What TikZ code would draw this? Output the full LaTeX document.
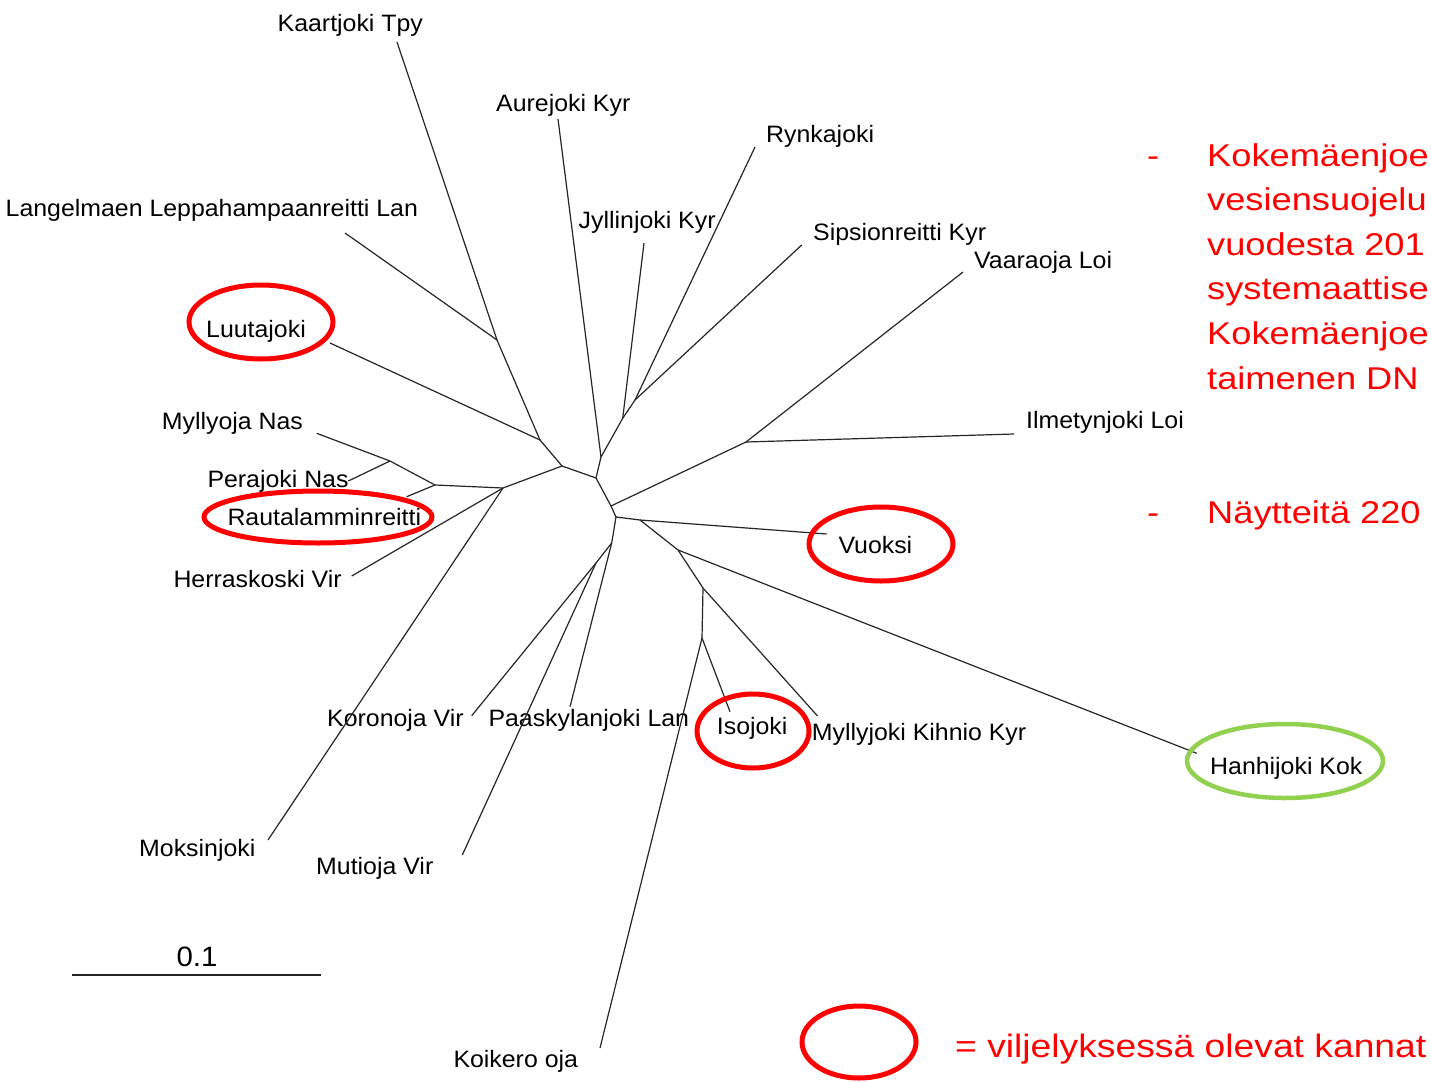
\documentclass[tikz,border=0pt]{standalone}
\usepackage{fontspec}
\setmainfont{Liberation Sans}[FakeStretch=1.05]
\newfontfamily\redf{Liberation Sans}[FakeStretch=1.15]
\definecolor{ringred}{RGB}{255,0,0}
\definecolor{ringgreen}{RGB}{146,208,80}
\begin{document}
\begin{tikzpicture}[x=1pt,y=-1pt,
  edge/.style={line width=1.2pt, black!85},
  lbl/.style={anchor=base west, inner sep=0pt, font=\fontsize{23.7}{28}\selectfont},
  redtxt/.style={anchor=base west, inner sep=0pt, text=ringred, font=\redf\fontsize{31.5}{38}\selectfont},
  redring/.style={draw=ringred, line width=5pt},
  greenring/.style={draw=ringgreen, line width=4.5pt}]
\clip (0,0) rectangle (1431,1081);
\fill[white] (0,0) rectangle (1431,1081);
% labels
\node[lbl] (kaa) at (277.5,32) {Kaartjoki Tpy};
\node[lbl] (aur) at (496,111) {Aurejoki Kyr};
\node[lbl] (ryn) at (766,142) {Rynkajoki};
\node[lbl] (lan) at (5.5,216) {Langelmaen Leppahampaanreitti Lan};
\node[lbl] (jyl) at (578.5,228) {Jyllinjoki Kyr};
\node[lbl] (sip) at (813,240) {Sipsionreitti Kyr};
\node[lbl] (vaa) at (974,268) {Vaaraoja Loi};
\node[lbl] (luu) at (206,337) {Luutajoki};
\node[lbl] (myo) at (161.7,429) {Myllyoja Nas};
\node[lbl] (ilm) at (1026,428) {Ilmetynjoki Loi};
\node[lbl] (per) at (207.3,487) {Perajoki Nas};
\node[lbl] (rau) at (227.3,525) {Rautalamminreitti};
\node[lbl] (vuo) at (838.3,553) {Vuoksi};
\node[lbl] (her) at (173.3,587) {Herraskoski Vir};
\node[lbl] (kor) at (327,726) {Koronoja Vir};
\node[lbl] (paa) at (488.3,726) {Paaskylanjoki Lan};
\node[lbl] (iso) at (716.7,734) {Isojoki};
\node[lbl] (myk) at (811.7,740) {Myllyjoki Kihnio Kyr};
\node[lbl] (han) at (1210,774) {Hanhijoki Kok};
\node[lbl] (mok) at (139,856) {Moksinjoki};
\node[lbl] (mut) at (316,874) {Mutioja Vir};
\node[lbl] (koi) at (453.3,1067) {Koikero oja};
% leaf ends
\coordinate (kaaE) at (397,42);
\coordinate (lanE) at (345,233);
\coordinate (luuE) at (330,343);
\coordinate (myoE) at (316.7,433.3);
\coordinate (perE) at (348.3,481);
\coordinate (rauE) at (406.7,496.7);
\coordinate (herE) at (351.7,576);
\coordinate (mokE) at (268,840);
\coordinate (aurE) at (558,119);
\coordinate (jylE) at (644,243);
\coordinate (rynE) at (755,147);
\coordinate (sipE) at (801.7,245);
\coordinate (vaaE) at (963,272);
\coordinate (ilmE) at (1014,434);
\coordinate (vuoE) at (826.7,534);
\coordinate (hanE) at (1196.7,753.3);
\coordinate (mykE) at (817.5,716);
\coordinate (isoE) at (730,711.7);
\coordinate (koiE) at (600,1048);
\coordinate (paaE) at (570,706.7);
\coordinate (korE) at (471.7,715.7);
\coordinate (mutE) at (462.3,855);
% internal nodes
\coordinate (nU) at (497,340);
\coordinate (nT) at (540,440);
\coordinate (nA) at (562,466);
\coordinate (nS) at (503,488);
\coordinate (nR) at (435,485);
\coordinate (nQ) at (390,461);
\coordinate (nB) at (596,478);
\coordinate (nD) at (601,457);
\coordinate (nE) at (622.7,418.3);
\coordinate (nF) at (635,400);
\coordinate (nH) at (611,506);
\coordinate (nI) at (746,442);
\coordinate (nG) at (616,517);
\coordinate (nJ) at (640,520);
\coordinate (nK) at (678,550);
\coordinate (nL) at (703,588);
\coordinate (nP) at (702,638);
\coordinate (nM) at (611.7,543);
\coordinate (nN) at (596,563);
% edges
\foreach \a/\b in {nU/kaaE, nU/lanE, nU/nT, nT/luuE, nT/nA, nA/nS, nS/nR, nR/rauE, nR/nQ, nQ/myoE, nQ/perE, nS/herE, nS/mokE, nA/nB, nB/nD, nD/aurE, nD/nE, nE/jylE, nE/nF, nF/rynE, nF/sipE, nB/nH, nH/nI, nI/vaaE, nI/ilmE, nH/nG, nG/nJ, nJ/vuoE, nJ/nK, nK/hanE, nK/nL, nL/mykE, nL/nP, nP/isoE, nP/koiE, nG/nM, nM/nN, nM/paaE, nN/korE, nN/mutE}
  \draw[edge] (\a) -- (\b);
% highlight rings
\draw[redring] (261,322) ellipse [x radius=72, y radius=37];
\draw[redring] (318,517) ellipse [x radius=114, y radius=26];
\draw[redring] (881,544) ellipse [x radius=72, y radius=37];
\draw[redring] (753,731) ellipse [x radius=56, y radius=37];
\draw[greenring] (1285,761) ellipse [x radius=98, y radius=37];
% scale bar
\coordinate (sbL) at (72,975);
\coordinate (sbR) at (321,975);
\draw[edge] (sbL) -- (sbR);
\node[anchor=base, inner sep=0pt, font=\fontsize{28}{32}\selectfont] (sbT) at (197,966) {0.1};
% red text
\node[redtxt] (d1) at (1147,166) {-};
\foreach \t [count=\i] in {Kokemäenjoe, vesiensuojelu, vuodesta 201, systemaattise, Kokemäenjoe, taimenen DN}
  \node[redtxt] (r\i) at (1207,{166+44.6*(\i-1)}) {\t};
\node[redtxt] (d2) at (1147,523) {-};
\node[redtxt] (r7) at (1207,523) {Näytteitä 220};
% legend
\draw[redring] (859,1042) ellipse [x radius=57, y radius=36];
\node[redtxt, font=\redf\fontsize{32.4}{38}\selectfont] (leg) at (955,1057) {= viljelyksessä olevat kannat};
\end{tikzpicture}
\end{document}
